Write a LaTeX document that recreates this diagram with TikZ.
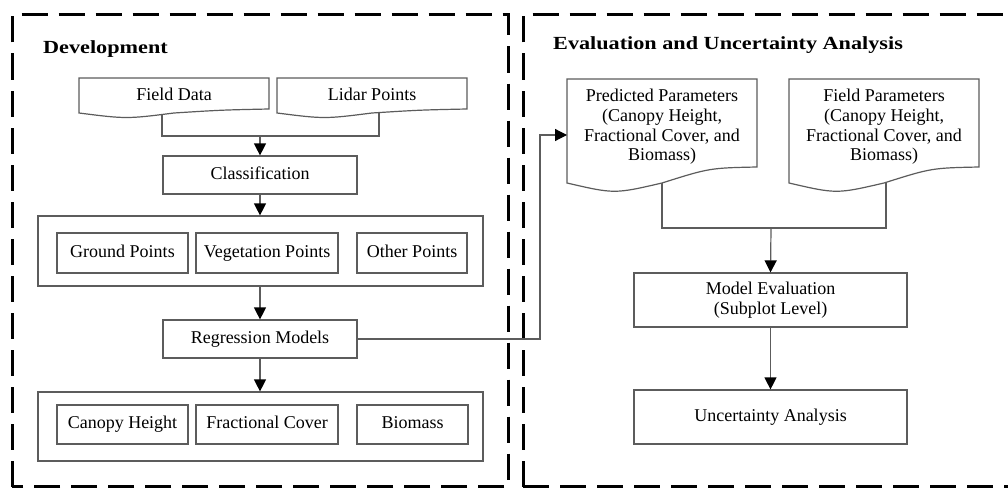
\documentclass[tikz,border=0pt]{standalone}
\usepackage{fontspec}
\setmainfont{Liberation Serif}
\usetikzlibrary{arrows.meta,backgrounds}
\definecolor{ln}{HTML}{5C5C5C}
\tikzset{
  boxline/.style={draw=ln, line width=1.2pt},
  box/.style={boxline, fill=white, inner sep=0pt, align=center, text=black,
    font=\fontsize{18}{20}\selectfont},
  oneline/.style={text height=12.5pt, text depth=4pt},
  doctext/.style={inner sep=0pt, align=center, text=black,
    font=\fontsize{18}{19.6}\selectfont},
  conn/.style={draw=ln, line width=1.2pt},
  arr/.style={conn, -{Triangle[length=12pt,width=12pt,color=black]}},
  frame/.style={draw=black, line width=3pt, dash pattern=on 26pt off 11pt},
  title/.style={inner sep=0pt, anchor=base west, text=black,
    font=\fontsize{18.5}{20}\selectfont\bfseries},
}
% x1, ytop, x2, yLeftBottom, yRightBottom, dip
\newcommand\docshape[6]{%
  \draw[boxline, fill=white] (#1,#2) -- (#3,#2) -- (#3,#5)
    .. controls ({#1+0.75*(#3-#1)},{#5+1}) .. ({#1+0.5*(#3-#1)},#4)
    .. controls ({#1+0.25*(#3-#1)},{#4+#6}) .. (#1,#4) -- cycle;}
\begin{document}
\begin{tikzpicture}[x=1pt,y=-1pt]
\useasboundingbox (0,0) rectangle (1008,487);

% dashed frames
\draw[frame] (12,486.5) -- (12,15) -- (508,15) -- (508,486.5) -- cycle;
\draw[frame] (523,486.5) -- (523,15) -- (1030,15);
\draw[frame] (523,486.5) -- (1030,486.5);

% titles
\node[title] (t1) at (43,53) {\scalebox{1.2}[1]{Development}};
\node[title] (t2) at (553,49) {\scalebox{1.2}[1]{Evaluation and Uncertainty Analysis}};

% ---------- left part ----------
\docshape{79}{78}{269}{113}{109}{6}
\node[doctext, oneline] (fd) at (174,96) {Field Data};
\docshape{277}{78}{467}{113}{109}{6}
\node[doctext, oneline] (lp) at (372,96) {Lidar Points};
\coordinate (fdb) at (162,108);
\coordinate (ldb) at (379,108);
\coordinate (j1) at (260,136);

\node[box, oneline, minimum width=194pt, minimum height=38pt] (cls) at (260,175) {Classification};

\node[box, minimum width=445pt, minimum height=70pt] (g1) at (260.5,251) {};
\node[box, oneline, minimum width=131pt, minimum height=40pt] (gp) at (122.5,253) {Ground Points};
\node[box, oneline, minimum width=142pt, minimum height=40pt] (vp) at (267,253) {Vegetation Points};
\node[box, oneline, minimum width=110pt, minimum height=40pt] (op) at (412,253) {Other Points};

\node[box, oneline, minimum width=194pt, minimum height=38pt] (reg) at (260,339) {Regression Models};

\node[box, minimum width=445pt, minimum height=69pt] (g2) at (260.5,426.5) {};
\node[box, oneline, minimum width=131pt, minimum height=39pt] (ch) at (122.5,424.5) {Canopy Height};
\node[box, oneline, minimum width=142pt, minimum height=39pt] (fc) at (267,424.5) {Fractional Cover};
\node[box, oneline, minimum width=111pt, minimum height=39pt] (bm) at (412.5,424.5) {Biomass};

% ---------- right part ----------
\docshape{567}{79}{757}{183}{167}{11}
\node[doctext] (pp) at (662,127) {Predicted Parameters\\(Canopy Height,\\Fractional Cover, and\\Biomass)};
\docshape{789}{79}{979}{183}{167}{11}
\node[doctext] (fp) at (884,127) {Field Parameters\\(Canopy Height,\\Fractional Cover, and\\Biomass)};
\coordinate (ppb) at (662,178);
\coordinate (fpb) at (886,178);
\coordinate (j2) at (771,228);
\coordinate (bend) at (540,135);
\coordinate (ppin) at (567,135);

\node[box, minimum width=273pt, minimum height=54pt] (me) at (770.5,300)
  {Model Evaluation\\(Subplot Level)};
\node[box, oneline, minimum width=273pt, minimum height=54pt] (ua) at (770.5,417)
  {Uncertainty Analysis};

% ---------- connectors ----------
\begin{scope}[on background layer]
  \draw[conn] (fdb) |- (j1) -| (ldb);
  \draw[conn] (ppb) |- (j2) -| (fpb);
\end{scope}
\draw[arr] (j1) -- (cls.north);
\draw[arr] (cls.south) -- (cls.south |- g1.north);
\draw[arr] (reg.north |- g1.south) -- (reg.north);
\draw[arr] (reg.south) -- (reg.south |- g2.north);
\draw[arr] (reg.east) -| (bend) -- (ppin);
\draw[arr] (j2) -- (me.north);
\draw[arr] (me.south) -- (ua.north);
\end{tikzpicture}
\end{document}
